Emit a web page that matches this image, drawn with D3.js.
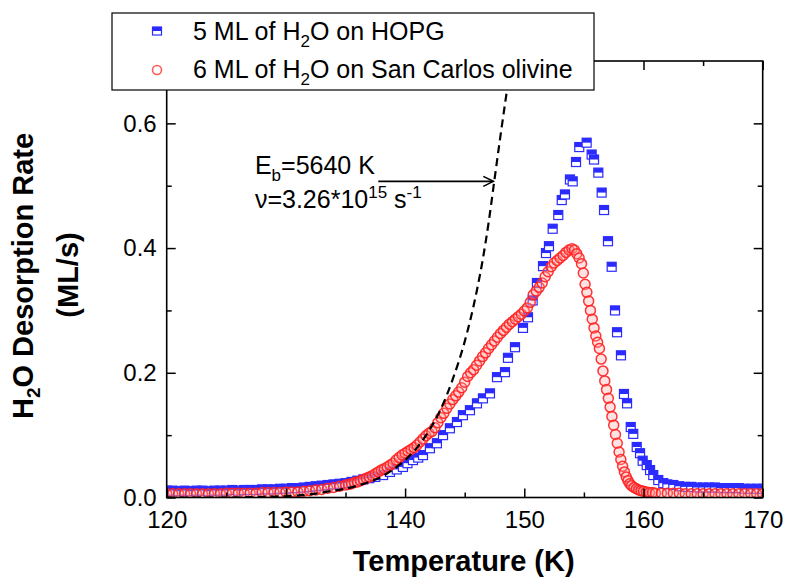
<!DOCTYPE html>
<html><head><meta charset="utf-8">
<script src="https://cdn.jsdelivr.net/npm/d3@7"></script>
<style>
body{margin:0;background:#fff}
svg{display:block}
text{font-family:Arial,"Liberation Sans",Helvetica,sans-serif;fill:#000}
</style>
</head><body>
<svg id="chart" width="786" height="580"></svg>
<script>
// ---- data ----
const hopgT = [120,120.5,121,121.5,122,122.5,123,123.5,124,124.5,125,125.5,126,126.5,127,127.5,128,128.5,129,129.5,130,130.5,131,131.5,132,132.5,133,133.5,134,134.5,135,135.5,136,136.5,137,137.5,
138.15,138.73,139.3,139.82,140.2,140.66,141.1,141.5,142.08,142.67,
143.18,143.76,144.35,144.85,145.44,146.03,146.53,147.12,147.71,148.38,
148.63,149.22,149.89,150.31,150.7,151.06,151.57,151.82,152.07,152.38,
152.85,153.14,153.41,153.83,154.06,154.34,154.61,155.23,155.65,155.85,
156.21,156.49,156.69,157.02,157.33,157.61,157.78,158.11,158.36,158.62,
158.93,159.14,159.43,159.71,159.93,160.27,160.55,160.82,161.24,161.66,
162,162.5,163,163.5,164,164.5,165,165.5,166,166.5,167,167.5,168,168.5,169,169.5,170];
const hopgRate = [0.011,0.011,0.010,0.011,0.010,0.011,0.011,0.010,0.011,0.011,
0.011,0.012,0.011,0.012,0.012,0.012,0.013,0.013,0.013,0.014,
0.014,0.015,0.015,0.016,0.017,0.018,0.019,0.020,0.021,0.022,
0.023,0.025,0.027,0.029,0.031,0.033,
0.036,0.041,0.045,0.049,0.055,0.060,0.064,0.068,0.079,0.087,
0.100,0.111,0.121,0.132,0.140,0.151,0.159,0.167,0.193,0.201,
0.224,0.241,0.272,0.289,0.316,0.344,0.371,0.392,0.403,0.431,
0.453,0.477,0.486,0.510,0.507,0.538,0.562,0.569,0.550,0.542,
0.521,0.489,0.461,0.411,0.370,0.300,0.265,0.228,0.166,0.151,
0.113,0.102,0.081,0.071,0.059,0.052,0.044,0.036,0.028,0.023,
0.021,0.020,0.018,0.017,0.017,0.016,0.016,0.016,0.016,0.015,0.015,0.015,0.015,0.014,0.014,0.014,0.014];

const olivT = [120,120.5,121,121.5,122,122.5,123,123.5,124,124.5,125,125.5,126,126.5,127,127.5,128,128.5,129,129.5,130,130.5,131,131.5,132,132.5,133,133.5,134,134.5,135,
135.25,135.5,135.75,136,136.25,136.5,136.75,137,137.25,137.5,
137.75,138,138.25,138.5,138.75,139,139.25,139.5,139.75,140,
140.25,140.5,140.75,141,141.25,141.5,141.75,142,142.25,142.5,
142.75,143,143.25,143.5,143.75,144,144.25,144.5,144.75,145,
145.25,145.5,145.75,146,146.25,146.5,146.75,147,147.25,147.5,
147.75,148,148.25,148.5,148.75,149,149.25,149.5,149.75,150,
150.25,150.5,150.75,151,151.25,151.5,151.75,152,152.25,152.5,
152.75,153,153.25,153.5,153.75,154,
154.2,154.4,154.6,154.8,154.95,155.1,155.25,155.4,155.55,155.7,155.85,156,156.15,156.3,156.45,156.6,156.75,156.9,157.05,157.2,157.35,157.5,157.65,157.8,157.95,158.1,158.25,158.4,158.55,158.7,158.85,
159,159.2,159.4,159.6,159.8,160,160.25,160.5,160.75,161,
161.5,162,162.5,163,163.5,164,164.5,165,165.5,166,166.5,167,167.5,168,168.5,169,169.5,170];
const olivRate = [0.006,0.006,0.006,0.006,0.006,0.006,0.006,0.006,0.006,0.006,
0.007,0.007,0.007,0.007,0.007,0.007,0.008,0.008,0.008,0.008,
0.009,0.009,0.009,0.010,0.011,0.012,0.013,0.015,0.016,0.018,0.020,
0.021,0.022,0.024,0.025,0.027,0.029,0.031,0.033,0.035,0.038,
0.041,0.044,0.046,0.049,0.052,0.055,0.060,0.064,0.068,0.071,
0.074,0.077,0.080,0.084,0.089,0.094,0.099,0.103,0.106,0.112,
0.120,0.128,0.135,0.143,0.150,0.157,0.163,0.169,0.176,0.185,
0.194,0.200,0.205,0.212,0.219,0.226,0.232,0.239,0.245,0.251,
0.257,0.263,0.268,0.273,0.278,0.282,0.286,0.290,0.294,0.299,
0.304,0.313,0.325,0.331,0.337,0.344,0.354,0.362,0.370,0.376,
0.380,0.384,0.388,0.393,0.397,0.399,
0.397,0.391,0.384,0.375,0.360,0.342,0.329,0.315,0.300,0.286,0.272,0.259,0.249,0.239,0.222,0.203,0.187,0.173,0.159,0.145,0.130,0.116,0.101,0.087,0.073,0.061,0.050,0.041,0.033,0.027,0.022,
0.019,0.016,0.014,0.012,0.011,0.010,0.009,0.008,0.008,0.007,
0.007,0.007,0.007,0.007,0.006,0.006,0.006,0.006,0.006,0.006,0.006,0.006,0.006,0.006,0.006,0.006,0.006,0.006];

const modelT = [120,125,128,130,132,134,135,136,137,138,139,140,141,142,143,144,145,146,146.5,147,147.5,148,148.6];
const modelRate = [0,0,0.001,0.002,0.005,0.011,0.014,0.019,0.025,0.033,0.045,0.060,0.080,0.107,0.142,0.19,0.25,0.33,0.38,0.44,0.51,0.58,0.66];

const xMajor = [120,130,140,150,160,170];
const xMinor = [125,135,145,155,165];
const yMajor = [0,0.2,0.4,0.6];
const yMinor = [0.1,0.3,0.5];

// annotation anchor values (data units)
const annoT = [127.4, 127.4];
const annoRate = [0.518, 0.465];
const arrowT = [137.75, 147.4];
const arrowRate = 0.507;

// ---- layout ----
const svg = d3.select("#chart");
const x = d3.scaleLinear().domain([120,170]).range([166.7,762.7]);
const y = d3.scaleLinear().domain([0,0.7]).range([497.5,61]);
const X0 = x.range()[0], X1 = x.range()[1], Y0 = y.range()[0], Y1 = y.range()[1];

svg.append("defs").append("clipPath").attr("id","plotclip")
  .append("rect").attr("x",X0).attr("y",Y1).attr("width",X1-X0).attr("height",Y0-Y1);

const plot = svg.append("g").attr("clip-path","url(#plotclip)");

// HOPG squares (half filled)
const blue = "#1414ff";
const hopg = plot.append("g").attr("opacity",0.9);
hopgT.forEach((t,i)=>{
  const g = hopg.append("g").attr("transform",`translate(${x(t)},${y(hopgRate[i])})`);
  g.append("rect").attr("x",-4.5).attr("y",-4.5).attr("width",9).attr("height",9)
    .attr("fill","#fff").attr("stroke",blue).attr("stroke-width",1.2);
  g.append("rect").attr("x",-4.5).attr("y",-4.5).attr("width",9).attr("height",4.5).attr("fill",blue);
});

// olivine circles
const oliv = plot.append("g");
olivT.forEach((t,i)=>{
  oliv.append("circle").attr("cx",x(t)).attr("cy",y(olivRate[i])).attr("r",5)
    .attr("fill","rgba(255,160,160,0.3)").attr("stroke","#ff2020").attr("stroke-opacity",0.9)
    .attr("stroke-width",1.5);
});

// model dashed line
const line = d3.line().x((d,i)=>x(modelT[i])).y((d,i)=>y(modelRate[i])).curve(d3.curveMonotoneX);
plot.append("path").datum(modelT).attr("d",line).attr("fill","none")
  .attr("stroke","#000").attr("stroke-width",2.2).attr("stroke-dasharray","8,5");

// axes
function styleAxis(g){
  g.select(".domain").remove();
  g.selectAll("line").attr("stroke","#000").attr("stroke-width",1.5);
  g.selectAll("text").attr("font-size",24).attr("font-family","Arial, 'Liberation Sans', sans-serif").attr("fill","#000");
}
svg.append("g").attr("transform",`translate(0,${Y0})`)
  .call(d3.axisBottom(x).tickValues(xMajor).tickSize(-9).tickPadding(13).tickFormat(d3.format("d"))).call(styleAxis);
svg.append("g").attr("transform",`translate(0,${Y0})`)
  .call(d3.axisBottom(x).tickValues(xMinor).tickSize(-5).tickFormat("")).call(styleAxis);
svg.append("g").attr("transform",`translate(0,${Y1})`)
  .call(d3.axisTop(x).tickValues(xMajor).tickSize(-9).tickFormat("")).call(styleAxis);
svg.append("g").attr("transform",`translate(0,${Y1})`)
  .call(d3.axisTop(x).tickValues(xMinor).tickSize(-5).tickFormat("")).call(styleAxis);
svg.append("g").attr("transform",`translate(${X0},0)`)
  .call(d3.axisLeft(y).tickValues(yMajor).tickSize(-9).tickPadding(10).tickFormat(d3.format(".1f"))).call(styleAxis);
svg.append("g").attr("transform",`translate(${X0},0)`)
  .call(d3.axisLeft(y).tickValues(yMinor).tickSize(-5).tickFormat("")).call(styleAxis);
svg.append("g").attr("transform",`translate(${X1},0)`)
  .call(d3.axisRight(y).tickValues(yMajor).tickSize(-9).tickFormat("")).call(styleAxis);
svg.append("g").attr("transform",`translate(${X1},0)`)
  .call(d3.axisRight(y).tickValues(yMinor).tickSize(-5).tickFormat("")).call(styleAxis);

svg.append("rect").attr("x",X0).attr("y",Y1).attr("width",X1-X0).attr("height",Y0-Y1)
  .attr("fill","none").attr("stroke","#000").attr("stroke-width",1.6);

// axis titles
svg.append("text").attr("x",(X0+X1)/2-1).attr("y",571).attr("text-anchor","middle")
  .attr("font-size",29).attr("font-weight","bold").text("Temperature (K)");
const yt = svg.append("text").attr("transform","translate(33,276) rotate(-90)")
  .attr("text-anchor","middle").attr("font-size",29).attr("font-weight","bold");
yt.append("tspan").text("H");
yt.append("tspan").attr("font-size",19).attr("dy",7).text("2");
yt.append("tspan").attr("dy",-7).text("O Desorption Rate");
svg.append("text").attr("transform","translate(78,275) rotate(-90)")
  .attr("text-anchor","middle").attr("font-size",29).attr("font-weight","bold").text("(ML/s)");

// annotation
const a1 = svg.append("text").attr("x",x(annoT[0])).attr("y",y(annoRate[0])).attr("font-size",25);
a1.append("tspan").text("E");
a1.append("tspan").attr("font-size",17).attr("dy",7).text("b");
a1.append("tspan").attr("dy",-7).text("=5640 K");
const a2 = svg.append("text").attr("x",x(annoT[1])).attr("y",y(annoRate[1])).attr("font-size",25);
a2.append("tspan").text("\u03bd=3.26*10");
a2.append("tspan").attr("font-size",17).attr("dy",-10).text("15");
a2.append("tspan").attr("dy",10).text(" s");
a2.append("tspan").attr("font-size",17).attr("dy",-10).text("-1");

const ax0 = x(arrowT[0]), ax1 = x(arrowT[1]), ay = y(arrowRate);
svg.append("line").attr("x1",ax0).attr("x2",ax1).attr("y1",ay).attr("y2",ay)
  .attr("stroke","#000").attr("stroke-width",1.6);
svg.append("path").attr("d",`M${ax1-10},${ay-5}L${ax1},${ay}L${ax1-10},${ay+5}`)
  .attr("fill","none").attr("stroke","#000").attr("stroke-width",1.6);

// legend
const lg = svg.append("g");
lg.append("rect").attr("x",112).attr("y",13).attr("width",482).attr("height",77)
  .attr("fill","#fff").attr("stroke","#000").attr("stroke-width",1.2);
const lb = lg.append("g").attr("transform","translate(157,31)").attr("opacity",0.9);
lb.append("rect").attr("x",-4.5).attr("y",-4).attr("width",9).attr("height",8)
  .attr("fill","#fff").attr("stroke",blue).attr("stroke-width",1.2);
lb.append("rect").attr("x",-4.5).attr("y",-4).attr("width",9).attr("height",4).attr("fill",blue);
lg.append("circle").attr("cx",157).attr("cy",70).attr("r",4.5)
  .attr("fill","#fff").attr("stroke","#ff5a5a").attr("stroke-width",1.6);

const legendPre = ["5 ML of H","6 ML of H"];
const legendPost = ["O on HOPG","O on San Carlos olivine"];
[39.5,78].forEach((by,i)=>{
  const t = lg.append("text").attr("x",193).attr("y",by).attr("font-size",25);
  t.append("tspan").text(legendPre[i]);
  t.append("tspan").attr("font-size",17).attr("dy",7).text("2");
  t.append("tspan").attr("dy",-7).text(legendPost[i]);
});
</script>
</body></html>
